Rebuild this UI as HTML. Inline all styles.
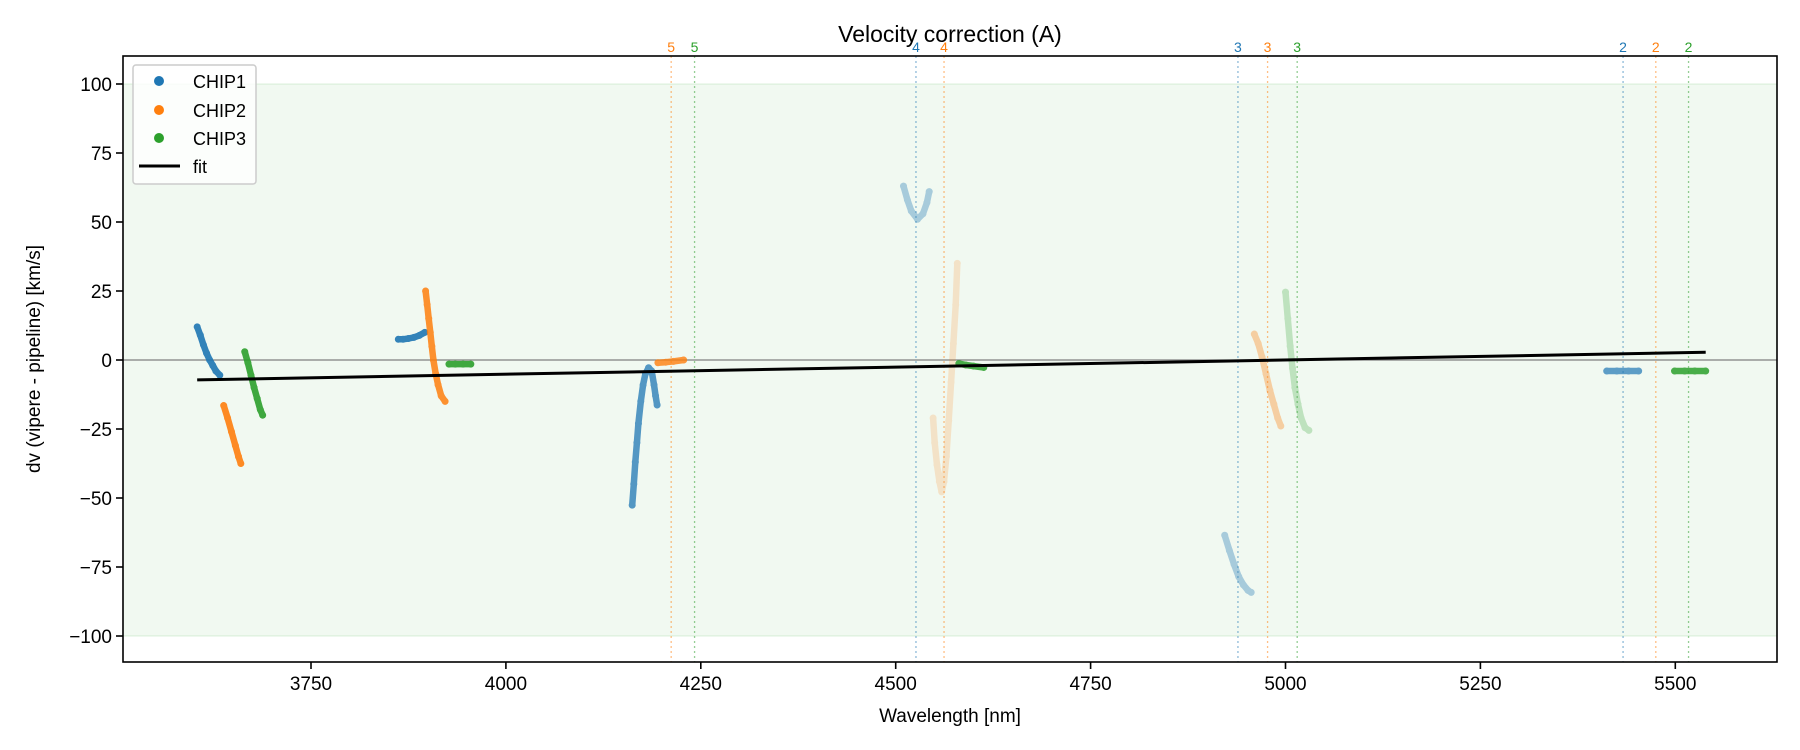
<!DOCTYPE html>
<html><head><meta charset="utf-8"><style>
html,body{margin:0;padding:0;background:#fff;}
svg{display:block;font-family:"Liberation Sans","DejaVu Sans",sans-serif;}
</style></head><body>
<svg id="chart" width="1800" height="750" viewBox="0 0 1800 750" xmlns="http://www.w3.org/2000/svg"></svg>
<script>
// ---- data ----
const xTicks = [3750, 4000, 4250, 4500, 4750, 5000, 5250, 5500];
const yTicks = [100, 75, 50, 25, 0, -25, -50, -75, -100];
const fitLine = [[3604, -7.2], [5539, 2.8]];
const orderLinesNm = [4212, 4242, 4526, 4562, 4939, 4977, 5015, 5433, 5475, 5517];
const orderLineChip = [2, 3, 1, 2, 1, 2, 3, 1, 2, 3];
const orderLineLabels = ["5", "5", "4", "4", "3", "3", "3", "2", "2", "2"];
const blue1 = [[3604,12],[3608,9],[3612,5.5],[3616,2.5],[3620,0],[3624,-2],[3628,-4],[3633,-5.5]];
const orange1 = [[3638,-16.5],[3643,-21],[3648,-26],[3653,-31],[3657,-35],[3660,-37.5]];
const green1 = [[3665,3],[3669,-1],[3673,-5.5],[3677,-10],[3681,-14],[3685,-18],[3688,-20]];
const blue2 = [[3862,7.5],[3868,7.5],[3875,7.8],[3882,8.2],[3889,8.9],[3896,10]];
const orange2 = [[3897,25],[3899,20],[3901,15],[3903,10],[3905,5],[3907,0],[3910,-5],[3913,-9],[3917,-13],[3922,-15]];
const green2 = [[3927,-1.5],[3935,-1.5],[3945,-1.5],[3955,-1.5]];
const blue3 = [[4162,-52.6],[4164,-45],[4166,-37],[4168,-30],[4170,-23],[4173,-15],[4176,-9],[4179,-5],[4183,-2.8],[4187,-4],[4190,-9],[4192,-13],[4194,-16.3]];
const orange3 = [[4195,-1],[4205,-0.8],[4215,-0.5],[4228,0]];
const blue4 = [[4510,63],[4515,58],[4520,54],[4528,51],[4535,53],[4540,57],[4543,61]];
const orange4 = [[4548,-21],[4550,-30],[4553,-38],[4556,-44],[4559,-47.8],[4562,-44],[4565,-35],[4568,-22],[4571,-8],[4574,6],[4577,20],[4579,35]];
const green4 = [[4581,-1.3],[4590,-1.8],[4600,-2.2],[4613,-2.7]];
const blue5 = [[4922,-63.5],[4928,-69],[4934,-74],[4940,-78.5],[4946,-81.5],[4952,-83.5],[4956,-84.2]];
const orange5 = [[4960,9.4],[4965,6],[4970,1],[4975,-5],[4980,-11],[4985,-16],[4990,-21],[4994,-23.9]];
const green5 = [[5000,24.6],[5003,15],[5006,5],[5009,-3],[5012,-10],[5016,-16],[5020,-21],[5025,-24.5],[5030,-25.5]];
const blue6 = [[5412,-4],[5425,-4],[5440,-4],[5453,-4]];
const green6 = [[5499,-4],[5512,-4],[5525,-4],[5539,-4]];
const segments = [
  {pts: blue1, chip: 1, a: 0.9}, {pts: orange1, chip: 2, a: 0.9}, {pts: green1, chip: 3, a: 0.9},
  {pts: blue2, chip: 1, a: 0.9}, {pts: orange2, chip: 2, a: 0.85}, {pts: green2, chip: 3, a: 0.9},
  {pts: blue3, chip: 1, a: 0.75}, {pts: orange3, chip: 2, a: 0.8},
  {pts: blue4, chip: 1, a: 0.35}, {pts: orange4, chip: 2, a: 0.18}, {pts: green4, chip: 3, a: 0.85},
  {pts: blue5, chip: 1, a: 0.35}, {pts: orange5, chip: 2, a: 0.35}, {pts: green5, chip: 3, a: 0.25},
  {pts: blue6, chip: 1, a: 0.7}, {pts: green6, chip: 3, a: 0.85}
];
// ---- layout ----
const L = 123, R = 1777, T = 56, B = 662;
const colors = {1: "#1f77b4", 2: "#ff7f0e", 3: "#2ca02c"};
function xs(v) { return 311 + (v - 3750) * 0.7796; }
function ys(v) { return 360 - v * 2.76; }
const svg = document.getElementById('chart');
const NS = "http://www.w3.org/2000/svg";
function mk(tag, attrs, parent) {
  const e = document.createElementNS(NS, tag);
  for (const k in attrs) e.setAttribute(k, attrs[k]);
  (parent || svg).appendChild(e);
  return e;
}
// band
const band = mk('rect', {x: L, y: ys(100), width: R - L, height: ys(-100) - ys(100), fill: "#2ca02c", 'fill-opacity': 0.065});


mk('line', {x1: L, x2: R, y1: ys(100), y2: ys(100), stroke: "#2ca02c", 'stroke-opacity': 0.1, 'stroke-width': 1.5});
mk('line', {x1: L, x2: R, y1: ys(-100), y2: ys(-100), stroke: "#2ca02c", 'stroke-opacity': 0.1, 'stroke-width': 1.5});
const zl = mk('line', {x1: L, x2: R, y1: ys(0), y2: ys(0), stroke: "#808080", 'stroke-width': 1.2});


// order lines
orderLinesNm.forEach((nm, i) => {
  const c = colors[orderLineChip[i]];
  const ln = mk('line', {x1: xs(nm), x2: xs(nm), y1: T, y2: B, stroke: c, 'stroke-opacity': 0.5, 'stroke-width': 1.3, 'stroke-dasharray': '2,3'});
  
  
  const t = mk('text', {x: xs(nm), y: 52, fill: c, 'font-size': 14, 'text-anchor': 'middle'});
  t.textContent = orderLineLabels[i];
  
  
});
// data
segments.forEach(s => {
  const g = mk('g', {fill: colors[s.chip], stroke: colors[s.chip], opacity: s.a});
  
  
  const d = s.pts.map((p, i) => (i ? 'L' : 'M') + xs(p[0]).toFixed(1) + ',' + ys(p[1]).toFixed(1)).join(' ');
  mk('path', {d: d, fill: 'none', 'stroke-width': 6.5, 'stroke-linecap': 'round', 'stroke-linejoin': 'round'}, g);
  s.pts.forEach(p => {
    const c = mk('circle', {cx: xs(p[0]), cy: ys(p[1]), r: 3.5, stroke: 'none'}, g);
    
    
  });
});
// fit
const fl = mk('line', {x1: xs(fitLine[0][0]), y1: ys(fitLine[0][1]), x2: xs(fitLine[1][0]), y2: ys(fitLine[1][1]), stroke: "#000", 'stroke-width': 3});


// axes frame
const fr = mk('rect', {x: L, y: T, width: R - L, height: B - T, fill: 'none', stroke: '#000', 'stroke-width': 1.6});


xTicks.forEach(v => {
  mk('line', {x1: xs(v), x2: xs(v), y1: B, y2: B + 7, stroke: '#000', 'stroke-width': 1.6});
  const t = mk('text', {x: xs(v), y: B + 28, 'font-size': 19, 'text-anchor': 'middle', fill: '#000'});
  t.textContent = v;
  
  
});
yTicks.forEach(v => {
  mk('line', {x1: L - 7, x2: L, y1: ys(v), y2: ys(v), stroke: '#000', 'stroke-width': 1.6});
  const t = mk('text', {x: L - 11, y: ys(v) + 7, 'font-size': 19, 'text-anchor': 'end', fill: '#000'});
  t.textContent = String(v).replace('-', '\u2212');
  
  
});
</script>
<svg style="position:absolute;left:0;top:0" width="1800" height="750">
  <text x="950" y="42" font-size="23" text-anchor="middle" font-family="Liberation Sans, sans-serif">Velocity correction (A)</text>
  <text x="950" y="722" font-size="19" text-anchor="middle" font-family="Liberation Sans, sans-serif">Wavelength [nm]</text>
  <text x="0" y="0" font-size="19" text-anchor="middle" font-family="Liberation Sans, sans-serif" transform="translate(40,359) rotate(-90)">dv (vipere - pipeline) [km/s]</text>
  <g font-family="Liberation Sans, sans-serif" font-size="18">
    <rect x="133" y="65" width="123" height="119" rx="3" fill="#fff" fill-opacity="0.8" stroke="#ccc" stroke-width="1.5"/>
    <circle cx="159" cy="81" r="5" fill="#1f77b4"/>
    <text x="193" y="88">CHIP1</text>
    <circle cx="159" cy="110" r="5" fill="#ff7f0e"/>
    <text x="193" y="117">CHIP2</text>
    <circle cx="159" cy="138" r="5" fill="#2ca02c"/>
    <text x="193" y="145">CHIP3</text>
    <line x1="139" x2="180" y1="166" y2="166" stroke="#000" stroke-width="3"/>
    <text x="193" y="173">fit</text>
  </g>
</svg>
</body></html>
